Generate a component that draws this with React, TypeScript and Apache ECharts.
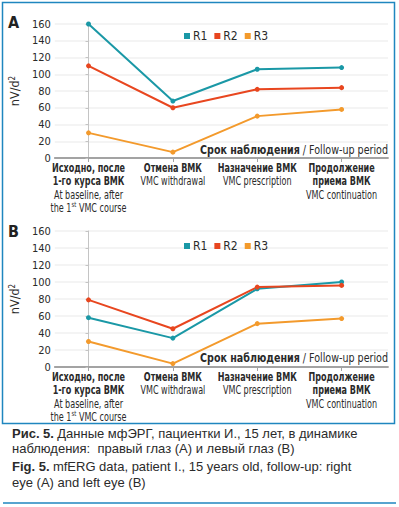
import React, { useEffect, useRef } from "react";
import * as echarts from "echarts";

const seriesNames = ["R1", "R2", "R3"];
const seriesColors = ["#1a98a6", "#e8461f", "#f39a2c"];

const xLabelsRu = [
  ["Исходно, после", "1-го курса ВМК"],
  ["Отмена ВМК"],
  ["Назначение ВМК"],
  ["Продолжение", "приема ВМК"],
];
const xLabelsEn = [
  ["At baseline, after", "the 1|st| VMC course"],
  ["VMC withdrawal"],
  ["VMC prescription"],
  ["VMC continuation"],
];

// Right eye (A)
const a_R1 = [160, 68, 106, 108];
const a_R2 = [110, 60, 82, 84];
const a_R3 = [30, 7, 50, 58];
// Left eye (B)
const b_R1 = [58, 34, 92, 100];
const b_R2 = [79, 45, 94, 96];
const b_R3 = [30, 4, 51, 57];

const yTicks = [0, 20, 40, 60, 80, 100, 120, 140, 160];
const xPositions = [0, 1, 2, 3];

const captionRu = ["Данные мфЭРГ, пациентки И., 15 лет, в динамике", "наблюдения:  правый глаз (А) и левый глаз (В)"];
const captionEn = ["mfERG data, patient I., 15 years old, follow-up: right", "eye (A) and left eye (B)"];

const NARROW = '"Liberation Sans Narrow", "DejaVu Sans Condensed", "Arial Narrow", sans-serif';
const SANS = '"Liberation Sans", Arial, sans-serif';
const INK = "#2a2a2a";

function labelText(i: number) {
  const lines: string[] = [];
  xLabelsRu[i].forEach((l) => lines.push(`{b|${l}}`));
  xLabelsEn[i].forEach((l) => {
    const parts = l.split("|");
    if (parts.length === 3) {
      lines.push(`{r|${parts[0]}}{s|${parts[1]}}{r|${parts[2]}}`);
    } else lines.push(`{r|${l}}`);
  });
  return lines.join("\n");
}

const labelRich = {
  b: { fontFamily: NARROW, fontWeight: "bold", fontSize: 11.5, fill: INK, lineHeight: 13.3 },
  r: { fontFamily: NARROW, fontSize: 11.5, fill: INK, lineHeight: 13.3 },
  s: { fontFamily: NARROW, fontSize: 7.5, fill: INK, lineHeight: 13.3, verticalAlign: "top", padding: [0, 0, 4, 0] },
};

function makeX(gridIndex: number) {
  return {
    type: "value",
    gridIndex,
    min: -0.4,
    max: 3.55,
    axisLine: { show: true, lineStyle: { color: "#a3a3a3", width: 1.8 } },
    axisTick: { show: true, customValues: xPositions, length: 4, lineStyle: { color: "#a3a3a3" } },
    axisLabel: { show: false },
    splitLine: { show: false },
  };
}

function makeY(gridIndex: number) {
  return {
    type: "value",
    gridIndex,
    min: yTicks[0],
    max: yTicks[yTicks.length - 1],
    interval: 20,
    name: "{a|nV/d}{s|2}",
    nameLocation: "middle",
    nameGap: 25,
    nameRotate: 90,
    nameTextStyle: {
      rich: {
        a: { fontFamily: NARROW, fontSize: 12.5, color: INK },
        s: { fontFamily: NARROW, fontSize: 8, color: INK, verticalAlign: "top", padding: [0, 0, 5, 0] },
      },
    },
    axisLine: { show: true, lineStyle: { color: "#c4c4c4", width: 1 } },
    axisTick: { show: true, length: 3, lineStyle: { color: "#c4c4c4" } },
    axisLabel: { fontFamily: NARROW, fontSize: 11, color: INK, margin: 4 },
    splitLine: { show: true, lineStyle: { color: "#f0f0f0", width: 1.5 } },
  };
}

function makeSeries(idx: number, data: number[][]) {
  return data.map((vals, k) => ({
    name: seriesNames[k],
    type: "line",
    xAxisIndex: idx,
    yAxisIndex: idx,
    data: vals.map((v, i) => [xPositions[i], v]),
    symbol: "circle",
    symbolSize: 5,
    color: seriesColors[k],
    lineStyle: { width: 2, color: seriesColors[k] },
    itemStyle: { color: seriesColors[k] },
  }));
}

function legend(top: number) {
  return {
    top,
    left: 179,
    icon: "rect",
    itemWidth: 6,
    itemHeight: 6,
    itemGap: 7,
    data: seriesNames,
    textStyle: { fontFamily: NARROW, fontSize: 12, color: INK, padding: [0, 0, 0, -2] },
  };
}

function followText(y: number) {
  return {
    type: "text",
    x: 388,
    y,
    scaleX: 0.85,
    style: {
      text: "{b|Срок наблюдения} {r|/ Follow-up period}",
      align: "right",
      verticalAlign: "middle",
      rich: {
        b: { fontFamily: NARROW, fontWeight: "bold", fontSize: 12.5, fill: INK },
        r: { fontFamily: NARROW, fontSize: 12.5, fill: INK },
      },
    },
  };
}

export default function App() {
  const ref = useRef<HTMLDivElement>(null);
  useEffect(() => {
    if (!ref.current) return;
    const chart = echarts.init(ref.current, undefined, { renderer: "svg" });
    chart.setOption({
      animation: false,
      backgroundColor: "#ffffff",
      grid: [
        { left: 44, right: 11, top: 24, height: 134 },
        { left: 43, right: 11, top: 231, height: 136 },
      ],
      xAxis: [makeX(0), makeX(1)],
      yAxis: [makeY(0), makeY(1)],
      legend: [legend(25), legend(235)],
      series: [
        ...makeSeries(0, [a_R1, a_R2, a_R3]),
        ...makeSeries(1, [b_R1, b_R2, b_R3]),
      ],
    });

    const axisLabels: any[] = [];
    [0, 1].forEach((g) => {
      const y0 = chart.convertToPixel({ yAxisIndex: g }, 0) as number;
      xPositions.forEach((xv, i) => {
        const px = chart.convertToPixel({ xAxisIndex: g }, xv) as number;
        axisLabels.push({
          type: "text",
          x: px,
          y: y0 + 3,
          scaleX: 0.78,
          style: { text: labelText(i), align: "center", verticalAlign: "top", rich: labelRich },
        });
      });
    });

    chart.setOption({
      graphic: [
        {
          type: "rect",
          shape: { x: 2.5, y: 2.5, width: 392, height: 421 },
          style: { fill: "none", stroke: "#1f86bf", lineWidth: 1.5 },
          z: 10,
        },
        {
          type: "line",
          shape: { x1: 3, y1: 503, x2: 396, y2: 503 },
          style: { stroke: "#1f86bf", lineWidth: 1.5 },
        },
        {
          type: "text",
          x: 8,
          y: 22,
          style: { text: "A", fontFamily: NARROW, fontWeight: "bold", fontSize: 16, fill: "#222", verticalAlign: "middle" },
        },
        {
          type: "text",
          x: 8,
          y: 231,
          style: { text: "B", fontFamily: NARROW, fontWeight: "bold", fontSize: 16, fill: "#222", verticalAlign: "middle" },
        },
        followText(150),
        followText(358),
        ...axisLabels,
        {
          type: "text",
          x: 12,
          y: 441,
          style: {
            text: `{b|Рис. 5.} {r|${captionRu[0]}}\n{r|${captionRu[1]}}`,
            verticalAlign: "middle",
            rich: {
              b: { fontFamily: SANS, fontWeight: "bold", fontSize: 13, fill: "#2b2b2b", lineHeight: 15.5 },
              r: { fontFamily: SANS, fontSize: 13, fill: "#2b2b2b", lineHeight: 15.5 },
            },
          },
        },
        {
          type: "text",
          x: 12,
          y: 474,
          style: {
            text: `{b|Fig. 5.} {r|${captionEn[0]}}\n{r|${captionEn[1]}}`,
            verticalAlign: "middle",
            rich: {
              b: { fontFamily: SANS, fontWeight: "bold", fontSize: 13, fill: "#2b2b2b", lineHeight: 16 },
              r: { fontFamily: SANS, fontSize: 13, fill: "#2b2b2b", lineHeight: 16 },
            },
          },
        },
      ],
    });
    return () => chart.dispose();
  }, []);
  return (
    <div style={{ position: "fixed", left: 0, top: 0, width: 399, height: 507, background: "#fff" }}>
      <div ref={ref} style={{ width: 399, height: 507 }} />
    </div>
  );
}
